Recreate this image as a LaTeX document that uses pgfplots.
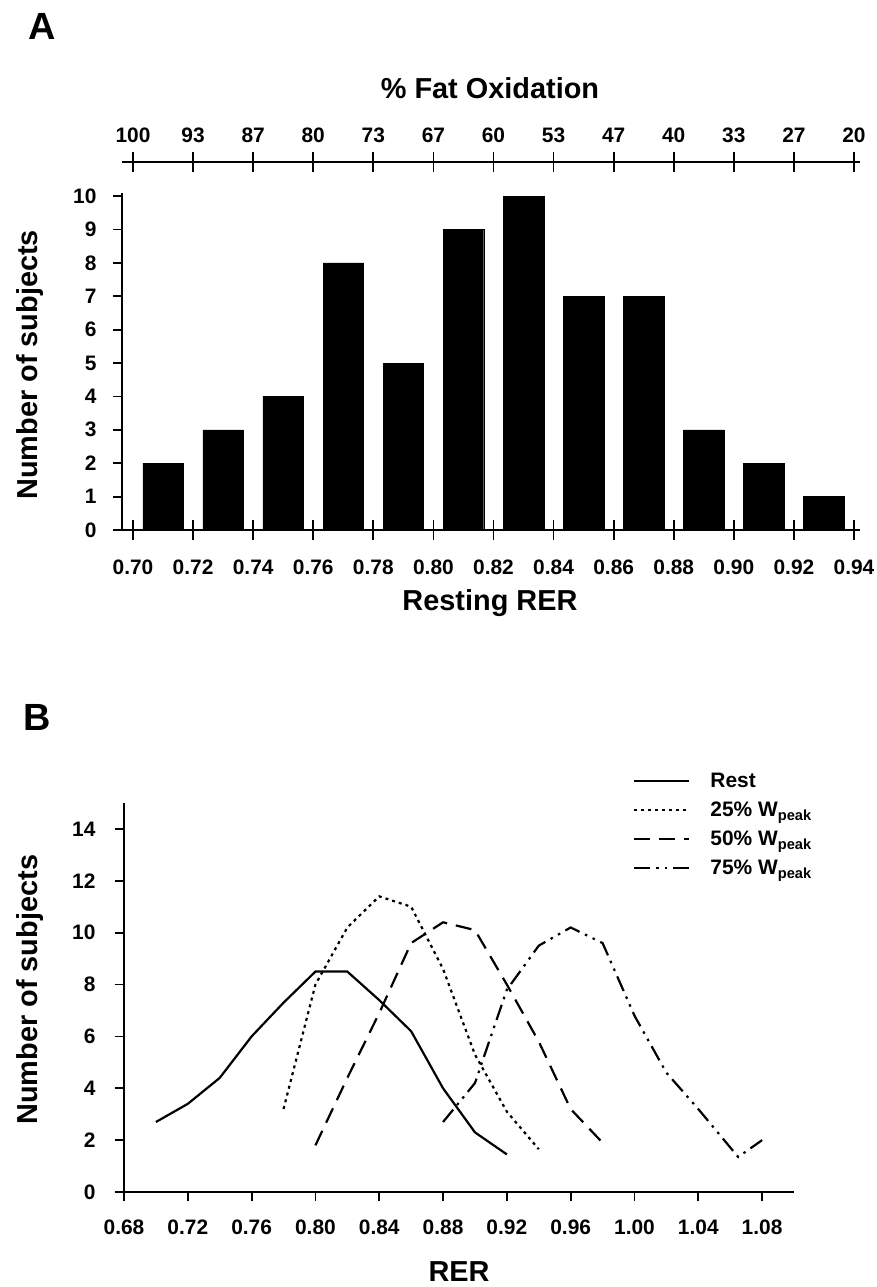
\documentclass[border=0pt]{standalone}
\usepackage{fontspec}
\setmainfont{Liberation Sans}
\usepackage{pgfplots}
\pgfplotsset{compat=1.18}
\newcommand{\tickfont}{\fontsize{21}{24}\selectfont\bfseries}
\newcommand{\labfont}{\fontsize{29}{33}\selectfont\bfseries}
\pgfplotsset{
  common/.style={
    scale only axis,
    axis x line*=bottom, axis y line*=left,
    axis line style={line width=2.5bp, black, -},
    tick style={line width=1.8bp, black},
    tick align=outside, major tick length=9bp,
    tick label style={font=\tickfont},
    /pgf/number format/assume math mode=true,
    label style={font=\labfont},
    clip=false,
  }
}
\begin{document}
\begin{tikzpicture}
\useasboundingbox (0,0) rectangle (877bp,-1287bp);
\node[font=\fontsize{38}{44}\selectfont\bfseries] at (42bp,-26bp) {A};
\node[font=\fontsize{38}{44}\selectfont\bfseries] at (37bp,-717bp) {B};

% ---- top axis (% fat oxidation)
\begin{axis}[
  at={(122bp,-162bp)}, anchor=north west,
  scale only axis, width=738bp, height=10bp,
  xmin=0.69634, xmax=0.9420, ymin=0, ymax=1,
  axis x line*=top, axis y line=none,
  axis line style={line width=2.5bp, black, -},
  tick style={line width=1.8bp, black},
  tick align=center, major tick length=20bp,
  xtick={0.70,0.72,0.74,0.76,0.78,0.80,0.82,0.84,0.86,0.88,0.90,0.92,0.94},
  xticklabels={100,93,87,80,73,67,60,53,47,40,33,27,20},
  tick label style={font=\tickfont},
  xticklabel style={yshift=6bp},
  xlabel={\% Fat Oxidation},
  xlabel style={font=\labfont, at={(axis description cs:0.4986,8.4)}, anchor=center},
]
\addplot[draw=none] coordinates {(0.70,0)};
\end{axis}

% ---- Panel A histogram
\begin{axis}[
  common,
  at={(122bp,-530bp)}, anchor=south west,
  width=738bp, height=337bp,
  xmin=0.69634, xmax=0.9420, ymin=0, ymax=10.09,
  xtick={0.70,0.72,0.74,0.76,0.78,0.80,0.82,0.84,0.86,0.88,0.90,0.92,0.94},
  xticklabels={0.70,0.72,0.74,0.76,0.78,0.80,0.82,0.84,0.86,0.88,0.90,0.92,0.94},
  ytick={0,1,2,3,4,5,6,7,8,9,10},
  xtick style={/pgfplots/major tick length=20bp, yshift=10bp},
  xticklabel style={yshift=-17bp},
  yticklabel style={xshift=-13bp},
  xlabel={Resting RER},
  xlabel style={at={(axis description cs:0.4986,-0.2166)}, anchor=center},
  ylabel={Number of subjects},
  ylabel style={at={(axis description cs:-0.1247,0.49)}, anchor=center},
]
\addplot[ybar, bar width=0.0135, fill=black, draw=black] coordinates {
  (0.71,2) (0.73,3) (0.75,4) (0.77,8) (0.79,5) (0.81,9)
  (0.83,10) (0.85,7) (0.87,7) (0.89,3) (0.91,2) (0.93,1)
};
\end{axis}

% ---- Panel B curves
\begin{axis}[
  common,
  at={(124bp,-1192bp)}, anchor=south west,
  width=670bp, height=389bp,
  xmin=0.68, xmax=1.10, ymin=0, ymax=15,
  xtick={0.68,0.72,0.76,0.80,0.84,0.88,0.92,0.96,1.00,1.04,1.08},
  xticklabels={0.68,0.72,0.76,0.80,0.84,0.88,0.92,0.96,1.00,1.04,1.08},
  ytick={0,2,4,6,8,10,12,14},
  xticklabel style={yshift=-15bp},
  yticklabel style={xshift=-16bp},
  xlabel={RER},
  xlabel style={at={(axis description cs:0.5,-0.2057)}, anchor=center},
  ylabel={Number of subjects},
  ylabel style={at={(axis description cs:-0.14,0.52)}, anchor=center},
  legend style={draw=none, fill=none, at={(rel axis cs:0.7597,1.082)}, anchor=north west,
    font=\fontsize{21}{24}\selectfont\bfseries, row sep=9bp, column sep=18bp, inner sep=0pt},
  legend cell align=left,
  legend image code/.code={\draw[#1] (0bp,0bp) -- (55bp,0bp);},
]
\addplot[black, line width=2.2bp] coordinates {
  (0.70,2.7) (0.72,3.4) (0.74,4.4) (0.76,6.0) (0.78,7.3) (0.80,8.5)
  (0.82,8.5) (0.84,7.4) (0.86,6.2) (0.88,4.0) (0.90,2.3) (0.92,1.45)
};
\addlegendentry{Rest}
\addplot[black, line width=2.2bp, dash pattern=on 3bp off 4bp] coordinates {
  (0.78,3.2) (0.80,8.0) (0.82,10.2) (0.84,11.4) (0.86,11.0) (0.88,8.6)
  (0.90,5.3) (0.92,3.1) (0.94,1.65)
};
\addlegendentry{25\% W\textsubscript{peak}}
\addplot[black, line width=2.2bp, dash pattern=on 16bp off 9bp] coordinates {
  (0.80,1.8) (0.82,4.4) (0.84,6.9) (0.86,9.6) (0.88,10.4) (0.90,10.1)
  (0.92,8.0) (0.94,5.8) (0.96,3.2) (0.98,1.9)
};
\addlegendentry{50\% W\textsubscript{peak}}
\addplot[black, line width=2.2bp, dash pattern=on 16bp off 6bp on 2.5bp off 6bp on 2.5bp off 6bp] coordinates {
  (0.88,2.7) (0.90,4.2) (0.92,7.8) (0.94,9.5) (0.96,10.2) (0.98,9.6)
  (1.00,6.8) (1.02,4.6) (1.04,3.2) (1.065,1.35) (1.08,2.0)
};
\addlegendentry{75\% W\textsubscript{peak}}
\end{axis}
\end{tikzpicture}
\end{document}
